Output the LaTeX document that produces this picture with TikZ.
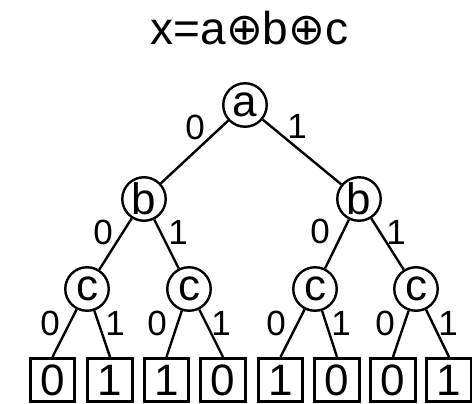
\documentclass[tikz,border=0pt]{standalone}
\usepackage{fontspec}
\setmainfont{Liberation Sans}
\newfontfamily\symfont{DejaVu Sans}
\begin{document}
\begin{tikzpicture}[x=1pt,y=-1pt,
  var/.style={circle,draw,line width=2.4pt,minimum size=43.5pt,inner sep=0pt,font=\fontsize{44}{46}\selectfont},
  leaf/.style={rectangle,draw,line width=2.6pt,minimum width=44.5pt,minimum height=43.5pt,inner sep=0pt,font=\fontsize{44}{46}\selectfont},
  lbl/.style={inner sep=0pt,font=\fontsize{35}{37}\selectfont},
  edge/.style={line width=2.4pt}]
\useasboundingbox (0,0) rectangle (472,404);
\node[inner sep=0pt,font=\fontsize{46}{50}\selectfont] (title) at (249.5,28) {x=a{\symfont\fontsize{44}{48}\selectfont ⊕}b{\symfont\fontsize{44}{48}\selectfont ⊕}c};
\node[var] (a) at (245,105) {a};
\node[var] (b1) at (144,199) {b};
\node[var] (b2) at (359,199) {b};
\node[var] (c1) at (87,289) {c};
\node[var] (c2) at (189,289) {c};
\node[var] (c3) at (315,289) {c};
\node[var] (c4) at (416,289) {c};
\node[leaf] (l1) at (52.5,380) {0};
\node[leaf] (l2) at (110,380) {1};
\node[leaf] (l3) at (166.5,380) {1};
\node[leaf] (l4) at (223,380) {0};
\node[leaf] (l5) at (280.5,380) {1};
\node[leaf] (l6) at (337,380) {0};
\node[leaf] (l7) at (393,380) {0};
\node[leaf] (l8) at (449,380) {1};
\draw[edge] (a) -- (b1);
\draw[edge] (a) -- (b2);
\draw[edge] (b1) -- (c1);
\draw[edge] (b1) -- (c2);
\draw[edge] (b2) -- (c3);
\draw[edge] (b2) -- (c4);
\draw[edge] (c1) -- (l1.north);
\draw[edge] (c1) -- (l2.north);
\draw[edge] (c2) -- (l3.north);
\draw[edge] (c2) -- (l4.north);
\draw[edge] (c3) -- (l5.north);
\draw[edge] (c3) -- (l6.north);
\draw[edge] (c4) -- (l7.north);
\draw[edge] (c4) -- (l8.north);
\node[lbl] (ea0) at (195,127) {0};
\node[lbl] (ea1) at (297,126) {1};
\node[lbl] (eb10) at (103,232) {0};
\node[lbl] (eb11) at (178,232) {1};
\node[lbl] (eb20) at (320,231) {0};
\node[lbl] (eb21) at (396,232) {1};
\node[lbl] (ec10) at (50,323) {0};
\node[lbl] (ec11) at (115,323) {1};
\node[lbl] (ec20) at (157,323) {0};
\node[lbl] (ec21) at (221,323) {1};
\node[lbl] (ec30) at (276,323) {0};
\node[lbl] (ec31) at (341,323) {1};
\node[lbl] (ec40) at (385,323) {0};
\node[lbl] (ec41) at (448,323) {1};
\end{tikzpicture}
\end{document}
